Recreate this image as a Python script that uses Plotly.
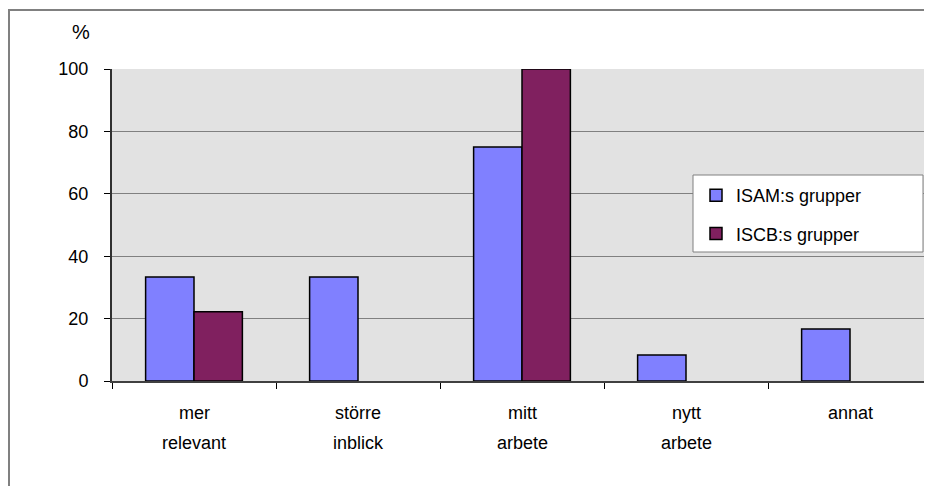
import plotly.graph_objects as go

categories = ["mer relevant", "större inblick", "mitt arbete", "nytt arbete", "annat"]
isam = [33.3, 33.3, 75.0, 8.3, 16.7]
iscb = [22.2, 0, 100.0, 0, 0]
series_names = ["ISAM:s grupper", "ISCB:s grupper"]
y_ticks = [0, 20, 40, 60, 80, 100]

OFF = 8  # default body margin of the page
W, H = 932 - OFF, 486 - OFF
L, R, T, B = 112 - OFF, 0, 69 - OFF, 105
pw, ph = W - L - R, H - T - B

def px_x(x):
    return (x - OFF - L) / pw

def px_y(y):
    return (H - B - (y - OFF)) / ph

FONT = "Liberation Sans, Arial, sans-serif"

def edge(vals):
    return [1.5 if v > 0 else 0 for v in vals]

fig = go.Figure()
fig.add_trace(go.Bar(x=categories, y=isam, name=series_names[0],
                     marker=dict(color="#8080FF", line=dict(color="black", width=edge(isam))),
                     legendgroup="a"))
fig.add_trace(go.Bar(x=categories, y=iscb, name=series_names[1],
                     marker=dict(color="#80205F", line=dict(color="black", width=edge(iscb))),
                     legendgroup="b"))

annotations = []
for c in categories:
    parts = c.split(" ")
    annotations.append(dict(x=c, xref="x", y=px_y(413), yref="paper", text=parts[0],
                            showarrow=False, yanchor="middle", xanchor="center",
                            font=dict(family=FONT, size=18, color="black")))
    if len(parts) > 1:
        annotations.append(dict(x=c, xref="x", y=px_y(443), yref="paper", text=parts[1],
                                showarrow=False, yanchor="middle", xanchor="center",
                                font=dict(family=FONT, size=18, color="black")))
annotations.append(dict(x=px_x(81), y=px_y(32), xref="paper", yref="paper", text="%",
                        showarrow=False, xanchor="center", yanchor="middle",
                        font=dict(family=FONT, size=20, color="black")))

fig.update_layout(
    width=W, height=H,
    margin=dict(l=L, r=R, t=T, b=B, pad=0),
    paper_bgcolor="white",
    plot_bgcolor="#E2E2E2",
    barmode="group",
    bargap=0.41,
    bargroupgap=0,
    font=dict(family=FONT, size=18, color="black"),
    showlegend=True,
    legend=dict(x=px_x(696), y=px_y(177), xanchor="left", yanchor="top",
                bgcolor="rgba(0,0,0,0)", borderwidth=0,
                traceorder="grouped", tracegroupgap=12,
                font=dict(family=FONT, size=18, color="black")),
    annotations=annotations,
    shapes=[
        dict(type="rect", xref="paper", yref="paper",
             x0=px_x(9), y0=px_y(520), x1=px_x(960), y1=px_y(10),
             line=dict(color="#808080", width=2), fillcolor="rgba(0,0,0,0)", layer="below"),
        dict(type="rect", xref="paper", yref="paper",
             x0=px_x(693), y0=px_y(252), x1=px_x(923), y1=px_y(175),
             line=dict(color="#808080", width=1), fillcolor="white", layer="above"),
    ],
)
fig.update_xaxes(showticklabels=False, ticks="outside", ticklen=6, tickcolor="black",
                 tickson="boundaries", showline=True, linecolor="#404040", linewidth=1.5,
                 showgrid=False, zeroline=False)
fig.update_yaxes(range=[0, 100], tickvals=y_ticks, ticks="outside", ticklen=6, tickcolor="black",
                 showline=True, linecolor="#303030", linewidth=2, showgrid=True,
                 gridcolor="#808080", gridwidth=1.2, zeroline=False, ticklabelstandoff=12,
                 tickfont=dict(family=FONT, size=18, color="black"))

fig.write_html("out.html")
